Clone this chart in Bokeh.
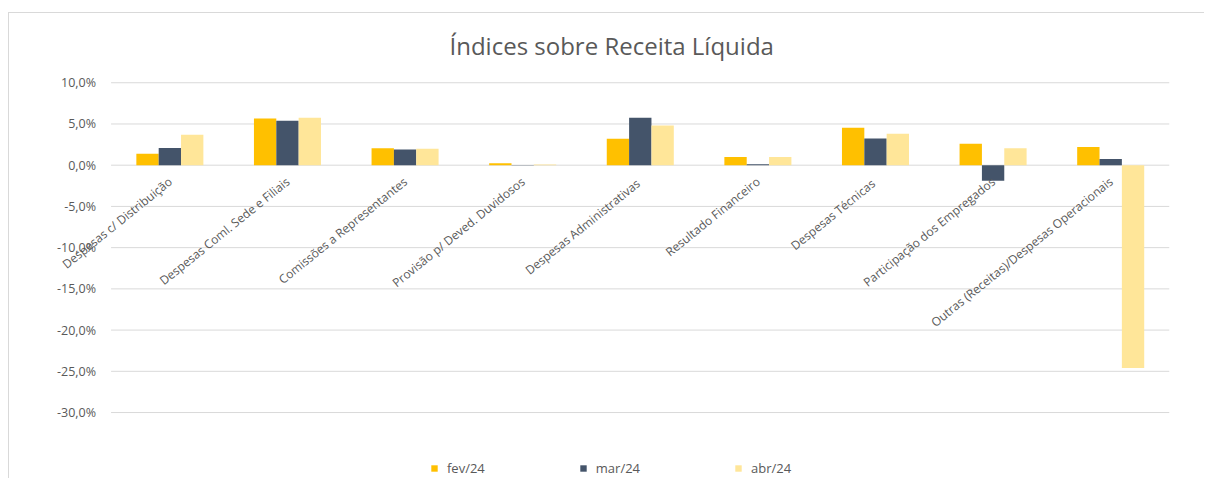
from bokeh.plotting import figure
from bokeh.models import (ColumnDataSource, Range1d, Legend, LegendItem, LabelSet, Title)
from bokeh.core.properties import value
from bokeh.transform import dodge
from bokeh.embed import file_html
from bokeh.resources import INLINE

categories = [
    "Despesas c/ Distribuição",
    "Despesas Coml. Sede e Filiais",
    "Comissões a Representantes",
    "Provisão p/ Deved. Duvidosos",
    "Despesas  Administrativas",
    "Resultado Financeiro",
    "Despesas  Técnicas",
    "Participação dos Empregados",
    "Outras (Receitas)/Despesas Operacionais",
]
fev24 = [1.4, 5.65, 2.05, 0.25, 3.2, 1.0, 4.55, 2.6, 2.2]
mar24 = [2.1, 5.4, 1.9, 0.02, 5.75, 0.12, 3.25, -1.9, 0.75]
abr24 = [3.7, 5.75, 2.0, 0.08, 4.8, 1.0, 3.8, 2.05, -24.6]
series_names = ["fev/24", "mar/24", "abr/24"]
y_ticks = [-30, -25, -20, -15, -10, -5, 0, 5, 10]
y_tick_labels = [f"{t:.1f}".replace(".", ",") + "%" for t in y_ticks]

colors = ["#FFC000", "#44546A", "#FFE699"]
TXT = "#595959"
GRID = "#D9D9D9"
FONT = "Open Sans"

n = len(categories)
idx = [i + 0.5 for i in range(n)]
src = ColumnDataSource(dict(cat=categories, x=idx, fev=fev24, mar=mar24, abr=abr24,
                            zero=[0.0] * n))
tsrc = ColumnDataSource(dict(y=y_ticks, lab=y_tick_labels, x0=[0] * len(y_ticks),
                             x1=[n] * len(y_ticks)))

p = figure(width=1196, height=466, x_range=Range1d(-0.6, n), y_range=Range1d(-38, 11),
           output_backend="svg", toolbar_location=None,
           min_border_left=31, min_border_right=36, min_border_top=61, min_border_bottom=1)
p.styles = {"margin-left": "8px", "margin-top": "12px",
            "border-left": "1px solid #d9d9d9", "border-top": "1px solid #d9d9d9"}

p.title = Title(text="Índices sobre Receita Líquida", align="left", text_font=FONT,
                text_font_size="24px", text_font_style="normal", text_color=TXT,
                offset=409, standoff=26)

p.xaxis.visible = False
p.yaxis.visible = False
p.xgrid.visible = False
p.ygrid.visible = False
p.outline_line_color = None

# gridlines
p.segment(x0="x0", x1="x1", y0="y", y1="y", source=tsrc, line_color=GRID, line_width=1)

w = 0.19
renderers = []
for field, off, col in zip(["fev", "mar", "abr"], [-w, 0, w], colors):
    r = p.vbar(x=dodge("x", off), top=field, bottom=0, width=w,
               source=src, fill_color=col, line_color=None)
    renderers.append(r)

ylabels = LabelSet(x="x0", y="y", text="lab", source=tsrc, x_offset=-15,
                   text_align="right", text_baseline="middle",
                   text_font=value(FONT), text_font_size="12.5px", text_color=TXT)
p.add_layout(ylabels)

labels = LabelSet(x="x", y="zero", text="cat", source=src, angle=0.68,
                  text_align="right", text_baseline="top", x_offset=-5, y_offset=-8,
                  text_font=value(FONT), text_font_size="12px", text_color=TXT)
p.add_layout(labels)

legend = Legend(items=[LegendItem(label=nm, renderers=[r]) for nm, r in zip(series_names, renderers)],
                orientation="horizontal", location=(390, 1), glyph_width=8, glyph_height=8,
                label_standoff=9, spacing=94, padding=0, margin=0, border_line_color=None,
                background_fill_alpha=0, label_text_font=FONT, label_text_font_size="13px",
                label_text_color=TXT)
p.add_layout(legend)

open("out.html", "w").write(file_html(p, INLINE))
